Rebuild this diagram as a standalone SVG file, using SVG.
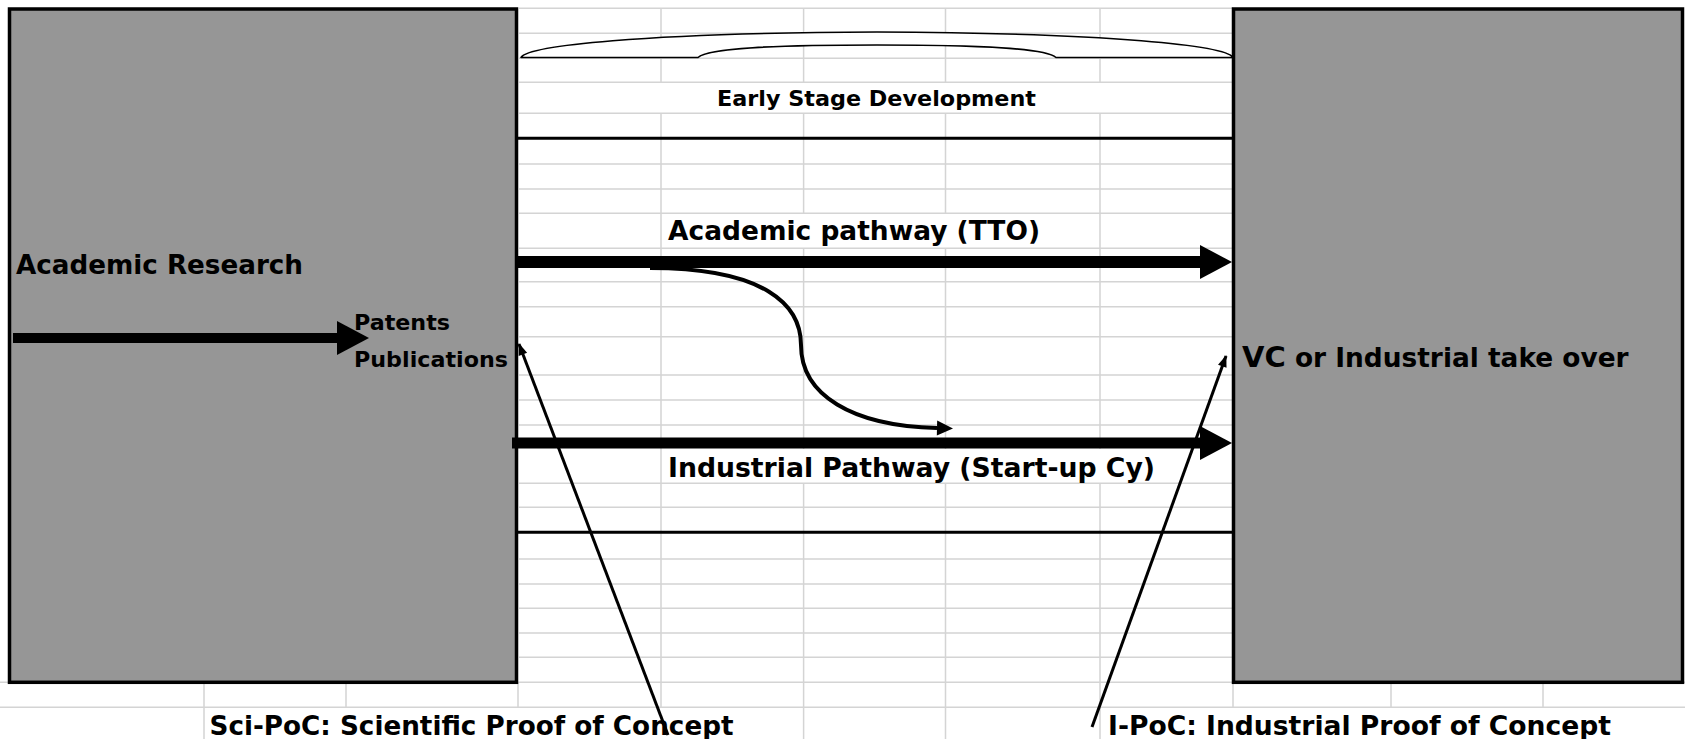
<svg xmlns="http://www.w3.org/2000/svg" width="1685" height="739" viewBox="0 0 1685 739">
<defs>
<style>
.grid{stroke:#d4d4d4;stroke-width:1.5;fill:none}
.box{fill:#969696;stroke:#000;stroke-width:3.5}
.rule{stroke:#000;stroke-width:3;fill:none}
.shaft{stroke:#000;fill:none;stroke-linecap:butt}
.thin{stroke:#000;stroke-width:3;fill:none}
.brace{fill:#fff;stroke:#000;stroke-width:1.6;stroke-linejoin:round}
text{font-family:"DejaVu Sans","Liberation Sans",sans-serif;font-weight:bold;fill:#000}
</style>
<marker id="bigHead" markerUnits="userSpaceOnUse" markerWidth="32" markerHeight="34" refX="0" refY="17" orient="auto" overflow="visible"><path d="M0,0 L32,17 L0,34 Z" fill="#000"/></marker>
<marker id="curveHead" markerUnits="userSpaceOnUse" markerWidth="16" markerHeight="15" refX="0" refY="7.5" orient="auto" overflow="visible"><path d="M0,0 L16,7.5 L0,15 Z" fill="#000"/></marker>
<marker id="thinHead" markerUnits="userSpaceOnUse" markerWidth="12" markerHeight="9" refX="11" refY="4.5" orient="auto" overflow="visible"><path d="M0,0 L12,4.5 L0,9 Z" fill="#000"/></marker>
</defs>
<rect width="1685" height="739" fill="#fff"/>
<g id="grid" class="grid">
<path d="M519,8.3H1233M519,33.3H1233M519,58.3H1233M519,82.3H1233M519,113.3H1233M519,164H1233M519,189H1233M519,213.3H1233M519,248.3H1233M519,281.7H1233M519,306.7H1233M519,336.7H1233M519,375H1233M519,400H1233M519,425H1233M519,483.3H1233M519,507.3H1233M519,559H1233M519,584H1233M519,608.3H1233M519,633H1233M519,657.3H1233M0,682.3H1685M0,707.3H1685"/>
<path d="M661,8.3V82.3M661,113.3V707.3M803.6,8.3V82.3M803.6,113.3V213.3M803.6,248.3V449M803.6,483.3V739M945.5,8.3V82.3M945.5,113.3V213.3M945.5,248.3V449M945.5,483.3V739M1100,8.3V82.3M1100,113.3V449M1100,483.3V739"/>
<path d="M204,682.3V739M346,682.3V707.3M518,682.3V707.3M1233,682.3V707.3M1391,682.3V707.3M1543,682.3V707.3"/>
</g>
<g id="early-stage">
<path class="brace" d="M521,57.5 C528,46 640,33 877,32 C1114,33 1226,46 1233,57.5 L1056,57.5 C1046,48 980,45 877,45 C774,45 708,48 698,57.5 Z"/>
<text x="717" y="106" font-size="22" textLength="319" lengthAdjust="spacingAndGlyphs">Early Stage Development</text>
<path class="rule" d="M518,138.3H1233M518,532.3H1233"/>
</g>
<g id="academic-research">
<rect class="box" x="9.5" y="9" width="507" height="673.3"/>
<text x="16" y="274" font-size="26" textLength="287" lengthAdjust="spacingAndGlyphs">Academic Research</text>
<text x="354" y="329.5" font-size="22" textLength="96" lengthAdjust="spacingAndGlyphs">Patents</text>
<text x="354" y="367.3" font-size="22" textLength="154" lengthAdjust="spacingAndGlyphs">Publications</text>
</g>
<g id="takeover">
<rect class="box" x="1233.5" y="9" width="449" height="673.3"/>
<text x="1242" y="366.7"><tspan font-size="29">VC</tspan><tspan font-size="26.4"> or Industrial take over</tspan></text>
</g>
<g id="pathway-labels">
<text x="668" y="240" font-size="26.5" textLength="372" lengthAdjust="spacingAndGlyphs">Academic pathway (TTO)</text>
<text x="668" y="477" font-size="26.5" textLength="487" lengthAdjust="spacingAndGlyphs">Industrial Pathway (Start-up Cy)</text>
</g>
<g id="poc-labels">
<text x="209.5" y="735" font-size="26" textLength="524" lengthAdjust="spacingAndGlyphs">Sci-PoC: Scientific Proof of Concept</text>
<text x="1108" y="735" font-size="26" textLength="503" lengthAdjust="spacingAndGlyphs">I-PoC: Industrial Proof of Concept</text>
</g>
<g id="connectors">
<line class="shaft" x1="13" y1="338" x2="337" y2="338" stroke-width="10" marker-end="url(#bigHead)"/>
<line class="shaft" x1="518" y1="262" x2="1200" y2="262" stroke-width="12" marker-end="url(#bigHead)"/>
<line class="shaft" x1="512" y1="443" x2="1200" y2="443" stroke-width="11" marker-end="url(#bigHead)"/>
<path class="shaft" stroke-width="4" d="M650,268 C765,268 801,305 801,345 C801,395 852,426 937,428" marker-end="url(#curveHead)"/>
<line class="thin" x1="668" y1="735" x2="519" y2="344" marker-end="url(#thinHead)"/>
<line class="thin" x1="1092" y1="727" x2="1226" y2="356" marker-end="url(#thinHead)"/>
</g>
</svg>
